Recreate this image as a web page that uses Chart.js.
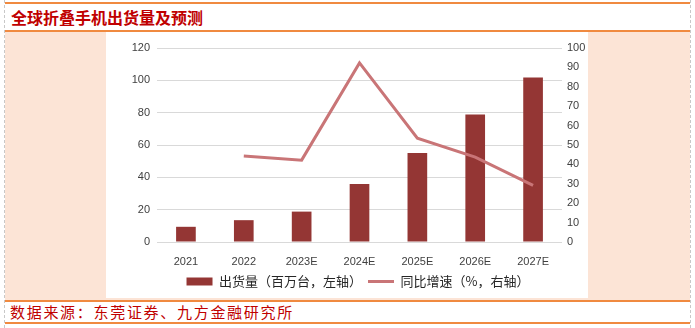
<!DOCTYPE html>
<html>
<head>
<meta charset="utf-8">
<script src="https://cdn.jsdelivr.net/npm/chart.js@4/dist/chart.umd.min.js"></script>
<style>
	html, body { margin: 0; padding: 0; background: #fff; }
	body { width: 695px; height: 328px; position: relative; overflow: hidden; font-family: "Noto Sans CJK SC", sans-serif; }
	.vline { position: absolute; top: 0; bottom: 0; width: 0; border-left: 1px dashed #c8c8c8; }
	.hline { position: absolute; left: 5px; right: 5px; height: 2px; background: #f08a40; }
	.title { position: absolute; left: 11px; top: 5px; font-size: 16px; font-weight: bold; color: #c00000; line-height: 24px; }
	.panel { position: absolute; left: 5px; right: 5px; top: 32px; height: 269px; background: #fce4d6; }
	.white { position: absolute; left: 106px; top: 32px; width: 482px; height: 266px; background: #fff; }
	.source { position: absolute; left: 10px; top: 302px; font-size: 15px; color: #c00000; letter-spacing: 1.7px; line-height: 20px; }
	#wrap { position: absolute; left: 106px; top: 32px; width: 482px; height: 266px; }
</style>
</head>
<body>
<div class="vline" style="left:4px"></div>
<div class="vline" style="left:690px"></div>
<div class="hline" style="top:2px"></div>
<div class="title">全球折叠手机出货量及预测</div>
<div class="hline" style="top:30px"></div>
<div class="panel"></div>
<div class="white"></div>
<div id="wrap"><canvas id="chart"></canvas></div>
<div class="hline" style="top:300px"></div>
<div class="source">数据来源：东莞证券、九方金融研究所</div>
<div class="hline" style="top:322px"></div>

<script>
// Chart data
const years = ['2021', '2022', '2023E', '2024E', '2025E', '2026E', '2027E'];
const shipments = [9.4, 13.5, 18.8, 35.8, 55.0, 78.8, 101.7];      // 百万台, left axis
const growth = [null, 44.3, 42.2, 92.3, 53.5, 43.8, 29.2];          // %, right axis
const leftTicks = [0, 20, 40, 60, 80, 100, 120];
const rightTicks = [0, 10, 20, 30, 40, 50, 60, 70, 80, 90, 100];

const tickFont = { family: 'Liberation Sans, Arial, sans-serif', size: 11 };

const ctx = document.getElementById('chart');
new Chart(ctx, {
	data: {
		labels: years,
		datasets: [
			{
				type: 'line',
				label: '同比增速（%，右轴）',
				data: growth,
				yAxisID: 'yRight',
				borderColor: '#c97577',
				backgroundColor: '#c97577',
				borderWidth: 3,
				pointRadius: 0,
				tension: 0,
				order: 0
			},
			{
				type: 'bar',
				label: '出货量（百万台，左轴）',
				data: shipments,
				yAxisID: 'yLeft',
				backgroundColor: '#943634',
				categoryPercentage: 1,
				barPercentage: 0.34,
				order: 1
			}
		]
	},
	options: {
		responsive: true,
		maintainAspectRatio: false,
		animation: false,
		// left padding pushes the centred legend a bit to the right, as in the original
		layout: { padding: { top: 16, bottom: 0, left: 22, right: 0 } },
		plugins: {
			tooltip: { enabled: false },
			legend: {
				position: 'bottom',
				reverse: true,
				labels: {
					usePointStyle: true,
					pointStyleWidth: 26,
					boxHeight: 8,
					padding: 6,
					color: '#262626',
					font: { family: '"Noto Sans CJK SC", sans-serif', size: 13 },
					generateLabels(chart) {
						const items = Chart.defaults.plugins.legend.labels.generateLabels(chart);
						items.forEach(it => {
							const ds = chart.data.datasets[it.datasetIndex];
							it.pointStyle = ds.type === 'line' ? 'line' : 'rect';
							if (ds.type !== 'line') it.lineWidth = 0;
						});
						return items;
					}
				}
			}
		},
		scales: {
			x: {
				grid: { display: false },
				border: { display: false },
				ticks: { color: '#404040', font: tickFont, padding: 5, maxRotation: 0 },
				afterFit: s => { s.height = 27; }
			},
			yLeft: {
				position: 'left',
				min: 0, max: 120,
				afterBuildTicks: s => { s.ticks = leftTicks.map(v => ({ value: v })); },
				grid: { color: '#d9d9d9', drawTicks: false },
				border: { display: false },
				ticks: { color: '#404040', font: tickFont, padding: 7 },
				afterFit: s => { s.width = 29; }
			},
			yRight: {
				position: 'right',
				min: 0, max: 100,
				afterBuildTicks: s => { s.ticks = rightTicks.map(v => ({ value: v })); },
				grid: { display: false, drawTicks: false },
				border: { display: false },
				ticks: { color: '#404040', font: tickFont, padding: 5 },
				afterFit: s => { s.width = 26; }
			}
		}
	}
});
</script>
</body>
</html>
